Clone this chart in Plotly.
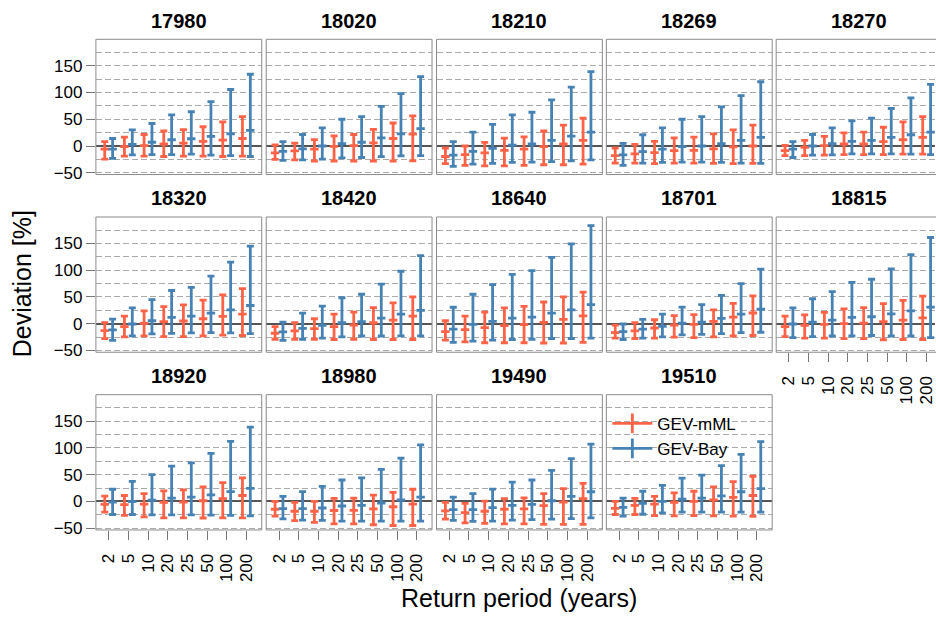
import plotly.graph_objects as go

stations = ["17980", "18020", "18210", "18269", "18270",
            "18320", "18420", "18640", "18701", "18815",
            "18920", "18980", "19490", "19510"]
return_periods = ["2", "5", "10", "20", "25", "50", "100", "200"]

mml_mid = [
    [-6, -1, 0.6, 3.7, 5.5, 8.6, 11, 14],
    [-13, -9, -6, -0.6, 0.6, 6, 14, 22],
    [-19.6, -16, -13, -8, -6, -1.2, 3.7, 10.4],
    [-17.8, -14.7, -12.3, -8.6, -8, -5.5, -1.8, 0],
    [-8.6, -2.5, 0.6, 3.7, 3.7, 8, 11.7, 16],
    [-13, -5.5, 0.6, 3.7, 5, 9.2, 13.5, 18],
    [-17.8, -13.5, -9.2, -5.5, -2.5, 1.8, 6.7, 14],
    [-14.7, -11, -7.4, -3.7, -1.8, 2.5, 8, 14.7],
    [-16.6, -13.5, -8, -2.5, -1.2, 4.3, 12.3, 20],
    [-5.5, -3, -1.2, 0, 1.2, 3.7, 6.7, 11],
    [-5.5, -6, -5, -1.8, -1.2, 1.2, 5, 11],
    [-14.7, -18.4, -18.4, -17, -16.6, -14, -10, -5],
    [-17.8, -21, -18.4, -14.7, -14, -8, -1.2, 5],
    [-13, -7.4, -5, -1.8, 0, 3, 7.4, 11],
]
mml_low = [
    [-24.5, -19, -19, -19.6, -19, -19, -19.6, -19],
    [-25, -26, -28, -28, -28, -28, -28, -27.6],
    [-33, -36, -37, -37, -36, -35, -35, -34],
    [-32, -32, -33, -32, -32, -32.5, -33, -32.5],
    [-18, -18, -17, -16, -16, -16, -15, -15],
    [-28, -24.5, -22.7, -24, -24, -22.7, -21.5, -22],
    [-29, -29, -29, -29.5, -29, -29.5, -29.5, -29.5],
    [-30.7, -34, -35.6, -35.6, -35.6, -36, -36, -35],
    [-27, -27.6, -27, -25, -26, -24.5, -23, -22],
    [-24, -27, -27, -28, -28, -30, -29.5, -29.5],
    [-20, -26, -29, -30.7, -30.7, -31, -30.7, -30.7],
    [-27.6, -36, -39, -42, -42, -43.6, -45, -45],
    [-33, -40, -41, -42, -42, -43, -43, -43],
    [-24.5, -24.5, -26.4, -27, -26.4, -27, -27.6, -28],
]
mml_high = [
    [8, 16.5, 21.5, 28, 30.7, 36, 45, 55],
    [2, 5.5, 12, 19, 21.5, 31, 43, 56.4],
    [-3.7, 0, 6.7, 14.7, 17, 28, 39, 52],
    [-3.7, 3, 8.6, 15, 16.5, 22.7, 30, 39],
    [1.2, 10.4, 18, 24.5, 26, 35, 45, 55],
    [2, 14, 24, 32, 35, 44, 54, 65.6],
    [-5.5, 2, 9.2, 18, 21.5, 30, 39, 50],
    [5.5, 14, 21.5, 29.5, 32.5, 40.5, 50, 59],
    [-2.5, 2, 7.4, 15, 17, 26, 38, 52],
    [14, 16.5, 21, 27.6, 30, 37.4, 43.6, 51.5],
    [10, 11, 14.7, 19.6, 21.5, 27, 35, 44],
    [0, -1.8, 0, 5.5, 6, 11.7, 17, 22.7],
    [-1.8, -3.7, 0.6, 5, 6.7, 14.7, 24, 33.7],
    [0, 5.5, 9.2, 16, 19, 27, 36.8, 47],
]
bay_mid = [
    [-6, 3, 7, 11.7, 13.5, 18, 22.7, 29],
    [-10, -5.5, 0, 4.3, 7, 15, 22.7, 32.5],
    [-17, -10, -4.3, 1.8, 3.7, 10.4, 18.4, 26],
    [-16.6, -10.4, -6, -1.2, 0, 4.3, 10.4, 16],
    [-6, 0, 4.3, 8.6, 10.4, 16, 21, 26],
    [-11.7, -0.6, 5.5, 11.7, 14, 19.6, 26, 34],
    [-15.3, -8.6, -3, 1.8, 3.7, 10.4, 18, 25],
    [-10, -1.2, 4.3, 10.4, 12.3, 19.6, 26, 35.6],
    [-14.7, -10, -5, 1.2, 3, 10, 18, 27],
    [-0.6, 3, 6.7, 11.7, 13, 18.4, 24, 31],
    [-1.2, -0.6, 2.5, 6, 8, 12.3, 18.4, 24.5],
    [-13.5, -13.5, -12.3, -8.6, -7.4, -3, 3, 8],
    [-15.3, -15.3, -11.7, -7.4, -5.5, 1.2, 9.2, 18],
    [-11, -3.7, 0, 4.3, 6, 10.4, 18, 24],
]
bay_low = [
    [-23, -16.5, -16, -16, -15, -17, -18, -19.6],
    [-27, -26, -24.5, -22, -21.5, -20, -18.4, -18],
    [-38, -34, -32.5, -30.7, -30, -29, -27.6, -26],
    [-36, -32, -30.7, -30, -30, -30.7, -32, -32.5],
    [-21.5, -17, -16.6, -14.7, -14.7, -14.7, -15, -16],
    [-31, -22.7, -19, -18, -17, -16.6, -17, -18.4],
    [-31, -29, -27, -24.5, -23, -23, -22.7, -22.7],
    [-35, -32.5, -30.7, -29.5, -29, -27.6, -27.6, -27],
    [-29.5, -27, -24.5, -21, -20, -18.4, -16.6, -16],
    [-26, -24, -23, -22.7, -22, -23, -23, -26],
    [-24.5, -24.5, -25, -25, -25, -25.8, -26, -27],
    [-32.5, -35, -35.6, -37, -37, -37, -37, -37],
    [-35.6, -37.4, -37, -35, -34, -33, -32, -30.7],
    [-27.6, -24, -21.5, -20, -20, -20, -20, -20],
]
bay_high = [
    [14, 30, 42, 58, 64, 83, 105.5, 134],
    [8, 21.5, 34, 50, 55, 74, 98, 129.5],
    [8, 26, 40.5, 58, 63, 86, 110, 139],
    [5, 21, 34, 50, 55, 73, 94, 120],
    [8, 21.5, 34, 47, 52, 70, 90, 115],
    [8.6, 29.5, 45, 62, 68, 89, 115, 145],
    [3, 19.6, 33, 48.5, 55, 74, 98, 127],
    [30.7, 55, 73, 92, 99, 124, 149, 183],
    [-0.6, 8, 18, 31, 35.6, 53, 75, 102],
    [29.5, 46.6, 60, 77, 83, 102.5, 129, 161],
    [22.7, 37.4, 50, 66, 72, 89.6, 112, 138.6],
    [9.2, 18.4, 28, 40, 44, 60, 81, 105.5],
    [8, 14.7, 23, 36, 40, 58, 80, 107],
    [6, 19, 30, 43.6, 49, 67, 87.7, 111.7],
]

series = [
    ("GEV-mML", "#FF6347", mml_low, mml_mid, mml_high, -0.2),
    ("GEV-Bay", "#4682B4", bay_low, bay_mid, bay_high, 0.2),
]

W, H = 936, 626
FONT = "Liberation Sans, Arial, Helvetica, sans-serif"
col_left = [96, 266.5, 437, 607, 777]
panel_w = 166
row_top = [39.8, 219.8, 399.8]
panel_h = 137.0
px_per_unit = panel_w / 8.43
x_lo = -0.65
y_range = [-53.3, 199.3]

fig = go.Figure()
layout = dict(width=W, height=H, margin=dict(l=0, r=0, t=0, b=0),
              paper_bgcolor="white", plot_bgcolor="white",
              font=dict(family=FONT, color="black"), showlegend=True)
shapes, annotations = [], []

for k, st in enumerate(stations):
    r, c = divmod(k, 5)
    sfx = "" if k == 0 else str(k + 1)
    x0 = col_left[c]
    x1 = min(x0 + panel_w, W)
    y0 = row_top[r]
    y1 = y0 + panel_h
    x_hi = x_lo + (x1 - x0) / px_per_unit
    bottom = (r == 2) or (k == 9)
    left = (c == 0)

    for name, color, lo, mid, hi, off in series:
        xs = [i + off for i in range(len(return_periods))]
        fig.add_trace(go.Scatter(
            x=xs, y=mid[k], mode="markers",
            xaxis="x" + sfx, yaxis="y" + sfx, showlegend=False,
            marker=dict(symbol="line-ew", size=6, color=color,
                        line=dict(color=color, width=2.8)),
            error_y=dict(type="data", symmetric=False,
                         array=[h - m for h, m in zip(hi[k], mid[k])],
                         arrayminus=[m - l for m, l in zip(mid[k], lo[k])],
                         color=color, thickness=2.8, width=3.5),
            hoverinfo="skip"))

    layout["xaxis" + sfx] = dict(
        domain=[x0 / W, x1 / W], anchor="y" + sfx,
        range=[x_lo, x_hi], showgrid=False, zeroline=False,
        tickmode="array", tickvals=list(range(len(return_periods))),
        ticktext=return_periods, showticklabels=bottom,
        ticks="outside" if bottom else "", ticklen=9, tickwidth=1,
        tickcolor="#777", tickangle=-90, ticklabelstandoff=7,
        ticklabeloverflow="allow",
        tickfont=dict(size=17, family=FONT, color="black"),
        showline=False, fixedrange=True)
    layout["yaxis" + sfx] = dict(
        domain=[1 - y1 / H, 1 - y0 / H], anchor="x" + sfx,
        range=y_range, tickmode="array", tickvals=[-50, 0, 50, 100, 150],
        showticklabels=left, ticks="outside" if left else "", ticklen=9,
        tickwidth=1, tickcolor="#777",
        tickfont=dict(size=17, family=FONT, color="black"),
        showgrid=True, gridcolor="#aaaaaa", gridwidth=1, griddash="6px,3px",
        minor=dict(tickmode="array", tickvals=[-25, 25, 75, 125, 175],
                   showgrid=True, gridcolor="#aaaaaa", gridwidth=1,
                   griddash="6px,3px", ticks=""),
        zeroline=True, zerolinecolor="#555555", zerolinewidth=1.5,
        showline=False, fixedrange=True)

    shapes.append(dict(type="rect", xref="paper", yref="paper",
                       x0=x0 / W, x1=(x0 + panel_w) / W if c < 4 else 1.02,
                       y0=1 - y1 / H, y1=1 - y0 / H,
                       line=dict(color="#8a8a8a", width=1), layer="above"))
    annotations.append(dict(text=st, xref="paper", yref="paper",
                            x=(x0 + (x0 + panel_w)) / 2 / W, y=1 - (y0 - 19) / H,
                            showarrow=False, xanchor="center", yanchor="middle",
                            font=dict(size=20, family=FONT, color="black",
                                      weight="bold")))

annotations.append(dict(text="Deviation [%]", xref="paper", yref="paper",
                        x=22 / W, y=1 - 287 / H, textangle=-90, showarrow=False,
                        xanchor="center", yanchor="middle",
                        font=dict(size=25, family=FONT, color="black")))
annotations.append(dict(text="Return period (years)", xref="paper", yref="paper",
                        x=520 / W, y=1 - 606 / H, showarrow=False,
                        xanchor="center", yanchor="middle",
                        font=dict(size=25, family=FONT, color="black")))

for name, color, lo, mid, hi, off in series:
    fig.add_trace(go.Scatter(
        x=[None], y=[None], mode="lines+markers", name=name,
        xaxis="x14", yaxis="y14",
        line=dict(color=color, width=2.8),
        marker=dict(symbol="line-ns", size=14, color=color,
                    line=dict(color=color, width=2.8))))

layout["legend"] = dict(x=608 / W, y=1 - 411 / H, xanchor="left", yanchor="top",
                        bgcolor="rgba(0,0,0,0)", borderwidth=0,
                        tracegroupgap=0,
                        font=dict(size=17, family=FONT, color="black"),
                        itemwidth=40)
layout["shapes"] = shapes
layout["annotations"] = annotations
fig.update_layout(**layout)
fig.write_html("out.html")
